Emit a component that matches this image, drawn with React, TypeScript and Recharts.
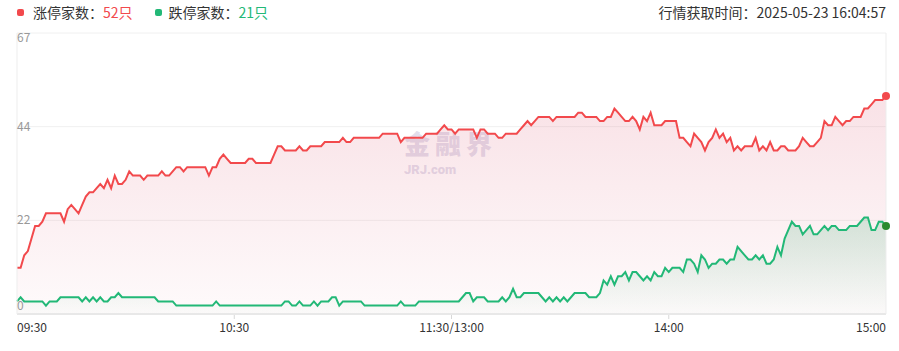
import React from 'react';
import {
  ComposedChart,
  Area,
  XAxis,
  YAxis,
  CartesianGrid,
  ReferenceDot
} from 'recharts';

// one point per trading minute, 09:30-11:30 then 13:00-15:00
const limitUp = [
  11, 11, 14, 15, 18, 21, 21, 22, 24, 24,
  24, 24, 24, 22, 25, 26, 25, 24, 26, 28,
  29, 29, 30, 31, 30, 32, 30, 33, 31, 31,
  32, 34, 33, 33, 33, 32, 33, 33, 33, 33,
  34, 33, 33, 34, 35, 35, 34, 35, 35, 35,
  35, 35, 35, 33, 35, 35, 37, 38, 37, 36,
  36, 36, 36, 36, 37, 37, 36, 36, 36, 36,
  36, 38, 40, 40, 39, 39, 39, 39, 40, 39,
  39, 40, 40, 40, 40, 41, 41, 41, 41, 41,
  42, 41, 41, 42, 42, 42, 42, 42, 42, 42,
  42, 43, 43, 43, 43, 43, 41, 42, 42, 42,
  42, 42, 42, 43, 43, 43, 43, 44, 45, 44,
  44, 43, 44, 44, 44, 44, 44, 42, 44, 44,
  43, 43, 43, 42, 42, 43, 43, 43, 43, 44,
  45, 46, 45, 46, 47, 47, 47, 47, 46, 47,
  47, 47, 47, 47, 47, 48, 48, 47, 47, 47,
  47, 46, 46, 47, 47, 49, 48, 47, 46, 46,
  47, 46, 44, 47, 46, 48, 45, 45, 45, 46,
  46, 46, 46, 42, 42, 41, 40, 43, 42, 41,
  39, 41, 42, 44, 42, 43, 41, 42, 39, 40,
  39, 40, 40, 40, 42, 39, 40, 39, 41, 39,
  39, 40, 40, 39, 39, 39, 40, 42, 41, 40,
  40, 41, 42, 46, 45, 45, 47, 46, 45, 46,
  46, 47, 47, 47, 49, 49, 50, 51, 51, 51,
  52
];

const limitDown = [
  3, 4, 3, 3, 3, 3, 3, 3, 2, 3,
  3, 3, 4, 4, 4, 4, 4, 4, 3, 4,
  3, 4, 3, 4, 3, 3, 4, 4, 5, 4,
  4, 4, 4, 4, 4, 4, 4, 4, 4, 3,
  3, 3, 3, 3, 2, 2, 2, 2, 2, 2,
  2, 2, 2, 2, 2, 3, 2, 2, 2, 2,
  2, 2, 2, 2, 2, 2, 2, 2, 2, 2,
  2, 2, 2, 2, 3, 3, 2, 2, 3, 2,
  2, 2, 3, 2, 3, 3, 3, 4, 4, 2,
  3, 3, 3, 3, 3, 3, 2, 2, 2, 2,
  2, 2, 2, 2, 2, 2, 3, 2, 2, 2,
  2, 3, 3, 3, 3, 3, 3, 3, 3, 3,
  3, 3, 3, 4, 5, 5, 3, 4, 4, 4,
  3, 3, 3, 3, 4, 3, 4, 6, 4, 4,
  5, 5, 5, 5, 5, 4, 3, 4, 3, 4,
  3, 4, 3, 4, 5, 5, 5, 5, 4, 4,
  4, 5, 8, 7, 9, 7, 9, 9, 10, 8,
  10, 10, 9, 8, 9, 8, 10, 9, 9, 11,
  10, 11, 11, 11, 10, 13, 13, 12, 10, 14,
  13, 11, 12, 12, 13, 13, 12, 13, 13, 16,
  15, 14, 13, 13, 14, 13, 14, 12, 12, 13,
  16, 14, 18, 20, 22, 21, 21, 19, 20, 21,
  19, 19, 20, 21, 20, 21, 21, 20, 20, 20,
  21, 21, 21, 22, 23, 23, 20, 20, 22, 22,
  21
];

const timeTicks = [0, 60, 120, 180, 240];
const timeLabels = ['09:30', '10:30', '11:30/13:00', '14:00', '15:00'];
const yMax = 67;
const yTicks = [0, yMax / 3, (yMax * 2) / 3, yMax];

const RED = '#f2494c';
const GREEN = '#22b877';

const data = limitUp.map((v, i) => ({ i, up: v, down: limitDown[i] }));
const last = data.length - 1;

const XTick = (props: any) => {
  const { x, y, payload } = props;
  const v = payload.value;
  const anchor = v === timeTicks[0] ? 'start' : v === timeTicks[timeTicks.length - 1] ? 'end' : 'middle';
  const showLine = anchor === 'middle';
  return (
    <g>
      {showLine && <line x1={x} x2={x} y1={y + 1} y2={y + 5} stroke="#d8d8d8" />}
      <text x={x} y={y + 18} textAnchor={anchor} fill="#333" fontSize={12}>
        {timeLabels[timeTicks.indexOf(v)]}
      </text>
    </g>
  );
};

const YTick = (props: any) => {
  const { x, y, payload } = props;
  const v = payload.value;
  // top label hangs below its gridline, bottom label sits above it
  let dy = 4;
  if (v === 0) dy = -4;
  if (v === yMax) dy = 9;
  return (
    <text x={x} y={y + dy} textAnchor="start" fill="#999" fontSize={12}>
      {Math.floor(v)}
    </text>
  );
};

export default function App() {
  return (
    <div
      style={{
        position: 'absolute',
        left: 0,
        top: 0,
        width: 899,
        height: 351,
        background: '#fff',
        fontFamily: '"Noto Sans CJK SC", "Noto Sans", sans-serif',
        overflow: 'hidden'
      }}
    >
      <div
        style={{
          position: 'absolute',
          left: 17,
          top: 2,
          fontSize: 14,
          lineHeight: '20px',
          color: '#333',
          display: 'flex',
          alignItems: 'center'
        }}
      >
        <span style={{ width: 7, height: 7, borderRadius: 2, background: RED, marginRight: 9 }} />
        <span>涨停家数：</span>
        <span style={{ color: RED }}>52只</span>
        <span style={{ width: 7, height: 7, borderRadius: 2, background: GREEN, marginLeft: 22, marginRight: 7 }} />
        <span>跌停家数：</span>
        <span style={{ color: GREEN }}>21只</span>
      </div>
      <div
        style={{
          position: 'absolute',
          right: 13,
          top: 2,
          fontSize: 14,
          lineHeight: '20px',
          color: '#333'
        }}
      >
        行情获取时间：2025-05-23 16:04:57
      </div>

      {/* watermark */}
      <div
        style={{
          position: 'absolute',
          left: 404,
          top: 129,
          color: 'rgba(185, 175, 210, 0.42)',
          fontWeight: 900
        }}
      >
        <div style={{ fontSize: 26, lineHeight: '28px', letterSpacing: 5 }}>金融界</div>
        <div style={{ fontSize: 13, lineHeight: '14px', fontFamily: 'Roboto, sans-serif', marginTop: 6 }}>JRJ.com</div>
      </div>

      <div style={{ position: 'absolute', left: 0, top: 0 }}>
        <ComposedChart
          width={899}
          height={351}
          data={data}
          margin={{ top: 33, right: 12, bottom: 7, left: 17 }}
        >
          <defs>
            <linearGradient id="upFill" x1="0" y1="0" x2="0" y2="1">
              <stop offset="0%" stopColor="#e06a82" stopOpacity={0.33} />
              <stop offset="100%" stopColor="#e06a82" stopOpacity={0.05} />
            </linearGradient>
            <linearGradient id="downFill" x1="0" y1="0" x2="0" y2="1">
              <stop offset="0%" stopColor="#1a9f5a" stopOpacity={0.3} />
              <stop offset="100%" stopColor="#1a9f5a" stopOpacity={0.02} />
            </linearGradient>
          </defs>
          <CartesianGrid vertical={false} stroke="#f0f0f0" />
          <XAxis
            dataKey="i"
            type="number"
            domain={[0, 240]}
            ticks={timeTicks}
            height={30}
            tickLine={false}
            tickSize={0}
            tickMargin={0}
            axisLine={{ stroke: '#e8e8e8', strokeWidth: 2 }}
            tick={<XTick />}
            interval={0}
          />
          <YAxis
            type="number"
            domain={[0, yMax]}
            ticks={yTicks}
            width={1}
            mirror
            tickLine={false}
            tickSize={0}
            tickMargin={0}
            axisLine={{ stroke: '#ededed' }}
            tick={<YTick />}
            interval={0}
          />
          <YAxis
            yAxisId="right"
            orientation="right"
            domain={[0, yMax]}
            width={1}
            tick={false}
            tickLine={false}
            axisLine={{ stroke: '#ededed' }}
          />
          <Area
            type="linear"
            dataKey="up"
            stroke={RED}
            strokeWidth={2}
            fill="url(#upFill)"
            dot={false}
            activeDot={false}
            isAnimationActive={false}
          />
          <Area
            type="linear"
            dataKey="down"
            stroke={GREEN}
            strokeWidth={2}
            fill="url(#downFill)"
            dot={false}
            activeDot={false}
            isAnimationActive={false}
          />
          <ReferenceDot x={last} y={limitUp[last]} r={4} fill={RED} stroke="none" />
          <ReferenceDot x={last} y={limitDown[last]} r={4} fill="#2a8a2e" stroke="none" />
        </ComposedChart>
      </div>
    </div>
  );
}
